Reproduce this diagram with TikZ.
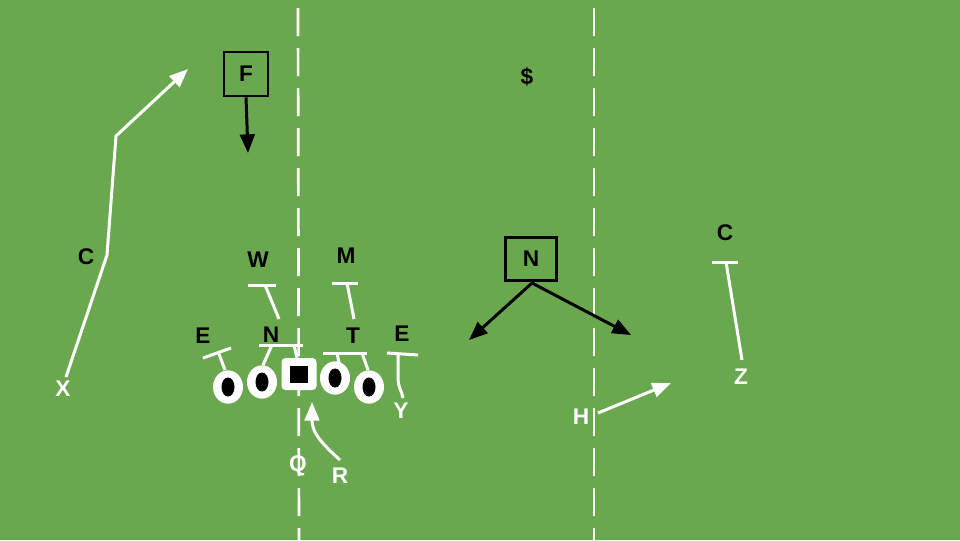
\documentclass[tikz,border=0pt]{standalone}
\usepackage{fontspec}
\setmainfont{Liberation Sans}
\usetikzlibrary{arrows.meta,shapes.geometric}
\definecolor{field}{RGB}{106,168,79}
\begin{document}
\begin{tikzpicture}[x=0.75pt,y=-0.75pt,
  lbl/.style={font=\fontsize{17}{20}\selectfont\bfseries, inner sep=0pt},
  wlbl/.style={lbl,text=white},
  blbl/.style={lbl,text=black},
  yard/.style={white,line width=2pt,dash pattern=on 21pt off 9pt},
  wroute/.style={white,line width=2.25pt},
  broute/.style={black,line width=2.25pt},
  warrow/.style={wroute,-{Triangle[length=14pt,width=11pt]}},
  barrow/.style={broute,-{Triangle[length=14pt,width=11pt]}},
  dbox/.style={lbl,draw=black,line width=2pt,inner sep=0pt},
  oline/.style={ellipse,fill=white,minimum width=22.5pt,minimum height=25pt,inner sep=0pt},
  iline/.style={ellipse,fill=black,minimum width=9.75pt,minimum height=14.25pt,inner sep=0pt},
  ocenter/.style={rectangle,rounded corners=3pt,fill=white,minimum width=26.25pt,minimum height=24pt,inner sep=0pt},
  icenter/.style={rectangle,fill=black,minimum width=13.5pt,minimum height=12.75pt,inner sep=0pt}
]
% field
\fill[field] (0,0) rectangle (960,540);
\useasboundingbox (0,0) rectangle (960,540);
% yard lines
\coordinate (yl1) at (298,8);
\coordinate (yl2) at (299,545);
\coordinate (yr1) at (594,8);
\coordinate (yr2) at (594,545);
\draw[yard] (yl1) -- (yl2);
\draw[yard] (yr1) -- (yr2);

% offensive line
\node[oline] (lt) at (228,387) {};
\node[iline] at (lt) {};
\node[oline] (lgd) at (262,382) {};
\node[iline] at (lgd) {};
\node[ocenter] (ctr) at (299,374) {};
\node[icenter] at (ctr) {};
\node[oline] (rgd) at (335,378) {};
\node[iline] at (rgd) {};
\node[oline] (rt) at (369,387) {};
\node[iline] at (rt) {};

% defensive front T-bars
\draw[wroute] (203,358) -- (231,348);
\draw[wroute] (219,354) -- (225,370);
\draw[wroute] (259,345) -- (303,345);
\draw[wroute] (272,345) -- (263,365);
\draw[wroute] (294,345) -- (297,358);
\draw[wroute] (323,353) -- (367,353);
\draw[wroute] (337,353) -- (339,363);
\draw[wroute] (362,353) -- (368,370);
\draw[wroute] (248,285) -- (276,285);
\draw[wroute] (265,285) -- (279,319);
\draw[wroute] (332,283) -- (358,283);
\draw[wroute] (347,283) -- (354,319);
% Y
\draw[wroute] (387,353) -- (418,355);
\draw[wroute] (398,354) -- (398,377) .. controls (398,388) and (402,391) .. (403,398);
% Z
\draw[wroute] (712,262) -- (738,262);
\draw[wroute] (726,262) -- (742,360);

% labels
\node[blbl] (lE) at (203,336) {E};
\node[blbl] (lN) at (271,335) {N};
\node[blbl] (lT) at (353,336) {T};
\node[blbl] (rE) at (402,334) {E};
\node[blbl] (lW) at (258,260) {W};
\node[blbl] (lM) at (346,256) {M};
\node[blbl] (lC) at (86,257) {C};
\node[blbl] (rC) at (725,233) {C};
\node[blbl] (dol) at (527,77) {\$};
\node[wlbl] (lZ) at (741,377) {Z};
\node[wlbl] (lH) at (581,417) {H};
\node[wlbl] (lY) at (401,411) {Y};
\node[wlbl] (lQ) at (298,466) {Q};
\node[wlbl] (lR) at (340,476) {R};
\node[wlbl] (lX) at (63,389) {X};

% boxes
\node[dbox,minimum width=33pt,minimum height=33pt] (F) at (246,74) {F};
\node[dbox,minimum width=38pt,minimum height=32pt] (NB) at (531,259) {N};

% routes
\coordinate (xs) at (66,377);
\coordinate (x1) at (107,255);
\coordinate (x2) at (116,136);
\coordinate (x3) at (188,69);
\draw[warrow] (xs) -- (x1) -- (x2) -- (x3);
\coordinate (ft) at (248,153);
\draw[barrow] (F.south) -- (ft);
\coordinate (nl) at (469,340);
\coordinate (nr) at (631,335);
\coordinate (nb) at (532,283);
\draw[barrow] (nb) -- (nl);
\draw[barrow] (nb) -- (nr);
\coordinate (hs) at (598,413);
\coordinate (he) at (671,383);
\draw[warrow] (hs) -- (he);
\coordinate (rs) at (340,460);
\coordinate (re) at (312,402);
\draw[warrow] (rs) .. controls (320,442) and (312,432) .. (re);
\end{tikzpicture}
\end{document}
